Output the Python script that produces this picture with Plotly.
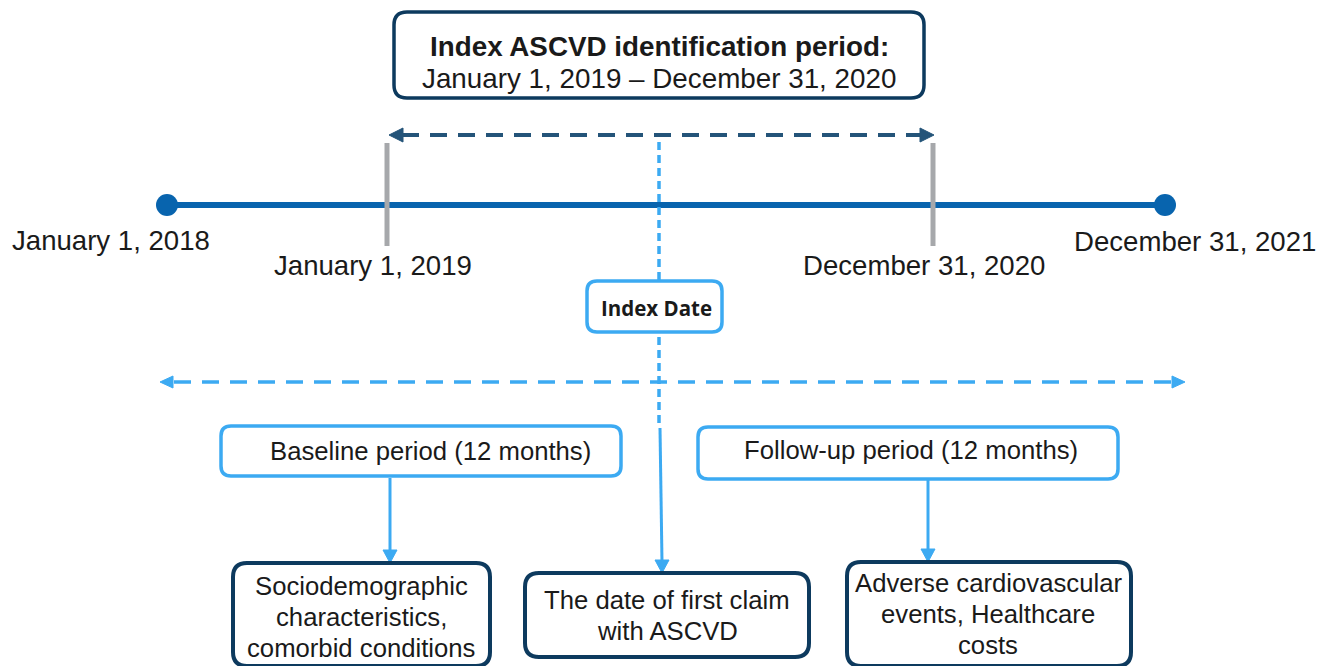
import plotly.graph_objects as go

# ---------------- data (text content) ----------------
title_lines = ["<b>Index ASCVD identification period:</b>", "January 1, 2019 – December 31, 2020"]
timeline_end_labels = ["January 1, 2018", "December 31, 2021"]
period_labels = ["January 1, 2019", "December 31, 2020"]
index_label = "<b>Index Date</b>"
period_boxes = ["Baseline period (12 months)", "Follow-up period (12 months)"]
outcome_boxes = [
    ["Sociodemographic", "characteristics,", "comorbid conditions"],
    ["The date of first claim", "with ASCVD"],
    ["Adverse cardiovascular", "events, Healthcare", "costs"],
]

# ---------------- styles ----------------
NAVY = "#0d3a5e"
DASH_NAVY = "#245479"
TL_BLUE = "#0864ae"
LIGHT = "#3caaf2"
GRAY = "#a6a8ab"
TXT = "#1a1a1a"
FONT = "Liberation Sans, Arial, sans-serif"

W, H = 1327, 666
OFF = 8  # page body margin; axis ranges shifted so coordinates match page pixels
fig = go.Figure()
shapes = []
ann = []


def rrect(x0, y0, x1, y1, r, color, width, fill="white"):
    p = (f"M {x0+r},{y0} L {x1-r},{y0} Q {x1},{y0} {x1},{y0+r} L {x1},{y1-r} "
         f"Q {x1},{y1} {x1-r},{y1} L {x0+r},{y1} Q {x0},{y1} {x0},{y1-r} "
         f"L {x0},{y0+r} Q {x0},{y0} {x0+r},{y0} Z")
    shapes.append(dict(type="path", path=p, line=dict(color=color, width=width),
                       fillcolor=fill, layer="above"))


def line(x0, y0, x1, y1, color, width, dash="solid"):
    shapes.append(dict(type="line", x0=x0, y0=y0, x1=x1, y1=y1,
                       line=dict(color=color, width=width, dash=dash), layer="above"))


def tri(tipx, tipy, direction, length, half, color):
    if direction == "left":
        pts = [(tipx, tipy), (tipx + length, tipy - half), (tipx + length, tipy + half)]
    elif direction == "right":
        pts = [(tipx, tipy), (tipx - length, tipy - half), (tipx - length, tipy + half)]
    else:  # down
        pts = [(tipx, tipy), (tipx - half, tipy - length), (tipx + half, tipy - length)]
    p = "M " + " L ".join(f"{x},{y}" for x, y in pts) + " Z"
    shapes.append(dict(type="path", path=p, fillcolor=color, line=dict(color=color, width=1),
                       layer="above"))


def text(x, y, s, size, family=FONT, color=TXT):
    ann.append(dict(x=x, y=y, xref="x", yref="y", text=s, showarrow=False,
                    xanchor="center", yanchor="middle",
                    font=dict(family=family, size=size, color=color)))


# main timeline (drawn as a trace through the axes)
fig.add_trace(go.Scatter(x=[167, 1165], y=[205, 205], mode="lines+markers",
                         line=dict(color=TL_BLUE, width=6),
                         marker=dict(size=22, color=TL_BLUE), hoverinfo="skip",
                         showlegend=False))

# gray period ticks
line(387, 143, 387, 246, GRAY, 5)
line(933, 143, 933, 246, GRAY, 5)

# dark dashed double arrow
line(402, 135, 920, 135, DASH_NAVY, 4, "17px,11px")
tri(389, 135, "left", 14, 7, DASH_NAVY)
tri(934, 135, "right", 14, 7, DASH_NAVY)

# light blue dashed vertical (index date)
line(659, 142, 659, 424, LIGHT, 3.5, "8px,5px")

# light blue dashed horizontal double arrow
line(174, 382, 1172, 382, LIGHT, 3.5, "17px,11px")
tri(160, 382, "left", 13, 6, LIGHT)
tri(1185, 382, "right", 13, 6, LIGHT)

# solid arrows
line(660, 428, 662, 562, LIGHT, 3)
tri(662, 573, "down", 13, 7, LIGHT)
line(390, 478, 390, 552, LIGHT, 3)
tri(390, 563, "down", 13, 7, LIGHT)
line(928, 480, 928, 551, LIGHT, 3)
tri(928, 562, "down", 13, 7, LIGHT)

# boxes
rrect(394, 12, 924, 98, 13, NAVY, 3.5)
rrect(587, 281, 722, 332, 10, LIGHT, 3.5)
rrect(221, 426, 621, 476, 10, LIGHT, 3.5)
rrect(698, 427, 1118, 479, 10, LIGHT, 3.5)
rrect(233, 563, 490, 666, 14, NAVY, 4)
rrect(525, 573, 809, 657, 14, NAVY, 4)
rrect(847, 562, 1131, 666, 14, NAVY, 4)

# texts
text(659, 46, title_lines[0], 27.8)
text(659, 78, title_lines[1], 27.8)
text(111, 240, timeline_end_labels[0], 27.6)
text(1195, 241, timeline_end_labels[1], 27.6)
text(373, 265, period_labels[0], 27.6)
text(924, 265, period_labels[1], 27.6)
text(656, 308, index_label, 20.5, family="Open Sans, Noto Sans, sans-serif")
text(430, 451, period_boxes[0], 25.7)
text(911, 450, period_boxes[1], 25.7)

box_cx = [361, 667, 988]
box_y = [[586, 617, 648], [600, 631], [583, 614, 645]]
for lines, cx, ys in zip(outcome_boxes, box_cx, box_y):
    for s, y in zip(lines, ys):
        text(cx, y, s, 25.7)

fig.update_layout(
    width=W, height=H, margin=dict(l=0, r=0, t=0, b=0),
    paper_bgcolor="white", plot_bgcolor="white",
    xaxis=dict(range=[OFF, W + OFF], visible=False, fixedrange=True),
    yaxis=dict(range=[H + OFF, OFF], visible=False, fixedrange=True),
    shapes=shapes, annotations=ann, showlegend=False,
)
fig.write_html("out.html")
